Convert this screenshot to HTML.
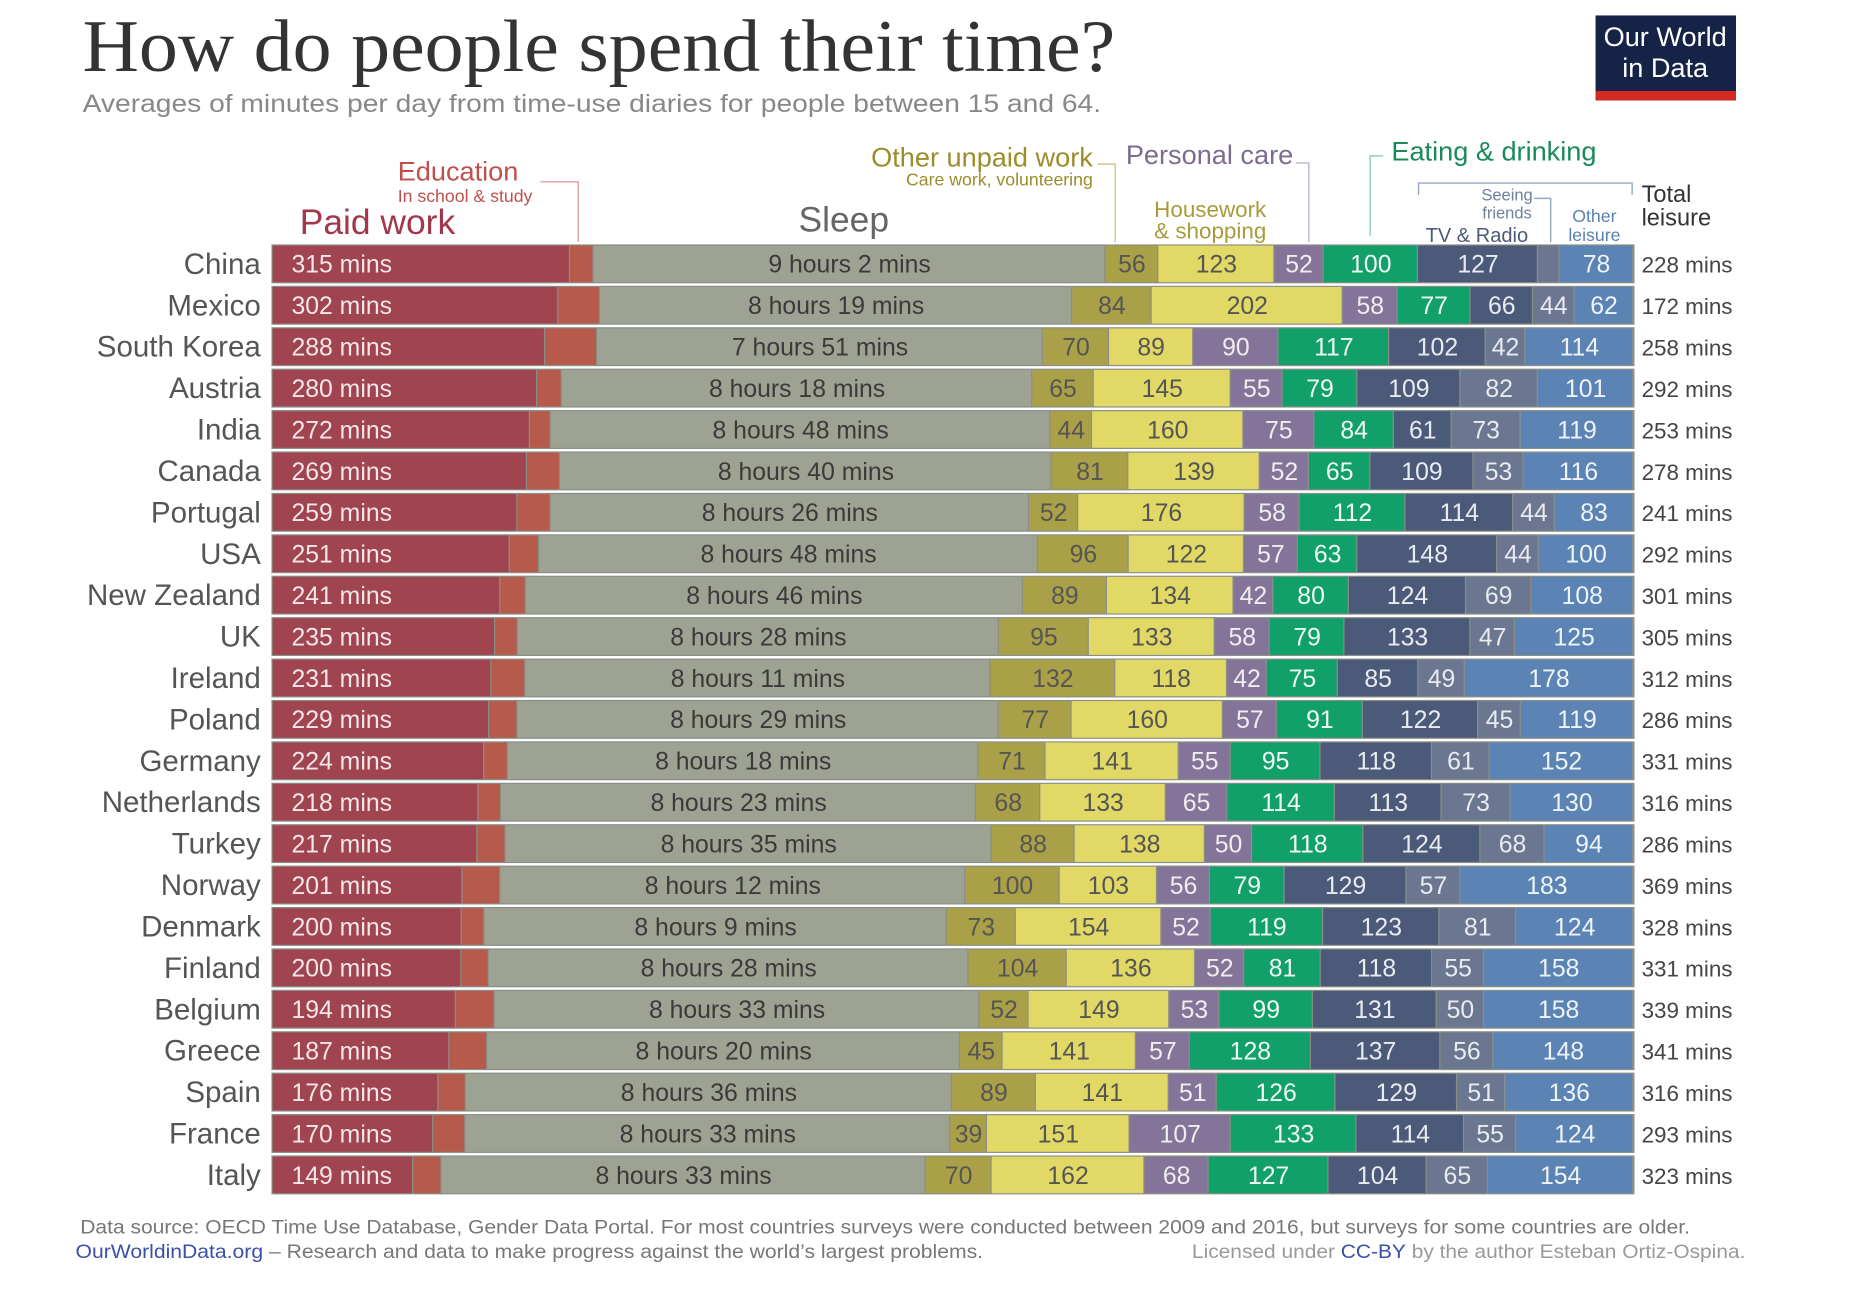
<!DOCTYPE html>
<html><head><meta charset="utf-8"><title>How do people spend their time?</title>
<style>
html,body{margin:0;padding:0;background:#fff;}
svg{display:block;}
text{font-family:"Liberation Sans",sans-serif;}
</style></head>
<body>
<svg id="chart" width="1854" height="1296" viewBox="0 0 1571 1098" xmlns="http://www.w3.org/2000/svg">
<rect x="0" y="0" width="1571" height="1098" fill="#fff"/>
<text x="70" y="60" font-size="63" fill="#333" textLength="875" lengthAdjust="spacingAndGlyphs" style="font-family:'Liberation Serif',serif">How do people spend their time?</text>
<text x="70" y="95" font-size="21" fill="#888" textLength="863" lengthAdjust="spacingAndGlyphs">Averages of minutes per day from time-use diaries for people between 15 and 64.</text>
<g>
<rect x="1352" y="13" width="119" height="72" fill="#152347"/>
<rect x="1352" y="77" width="119" height="8" fill="#d42b21"/>
<text x="1411" y="39" font-size="23" fill="#fff" text-anchor="middle">Our World</text>
<text x="1411" y="65" font-size="23" fill="#fff" text-anchor="middle">in Data</text>
</g>
<g fill="none" stroke-width="1.2">
<text x="337" y="153" font-size="23" fill="#c0504d" stroke="none">Education</text>
<text x="337" y="171" font-size="15" fill="#c0504d" stroke="none">In school &amp; study</text>
<polyline points="458,154 490,154 490,205" stroke="#e0a0a0"/>
<text x="254" y="198" font-size="30" fill="#a3364a" stroke="none">Paid work</text>
<text x="715" y="196" font-size="30" fill="#666" stroke="none" text-anchor="middle">Sleep</text>
<text x="926" y="141" font-size="23" fill="#9a8d2a" stroke="none" text-anchor="end">Other unpaid work</text>
<text x="926" y="157" font-size="15" fill="#9a8d2a" stroke="none" text-anchor="end">Care work, volunteering</text>
<polyline points="930,139 945,139 945,205" stroke="#cfc78a"/>
<text x="954" y="139" font-size="23" fill="#7c6c8e" stroke="none">Personal care</text>
<polyline points="1098,138 1109,138 1109,205" stroke="#c0b8cc"/>
<text x="978" y="184" font-size="19" fill="#a99a3a" stroke="none">Housework</text>
<text x="978" y="202" font-size="19" fill="#a99a3a" stroke="none">&amp; shopping</text>
<text x="1179" y="136" font-size="23" fill="#1a8a5a" stroke="none">Eating &amp; drinking</text>
<polyline points="1172,132 1161,132 1161,200" stroke="#8fd0b0"/>
<polyline points="1202,165 1202,155 1383,155 1383,165" stroke="#99a8c0"/>
<text x="1277" y="170" font-size="14" fill="#7080a0" stroke="none" text-anchor="middle">Seeing</text>
<text x="1277" y="185" font-size="14" fill="#7080a0" stroke="none" text-anchor="middle">friends</text>
<polyline points="1300,168 1314,168 1314,205" stroke="#99a8c0"/>
<text x="1208" y="205" font-size="17" fill="#4a5a78" stroke="none">TV &amp; Radio</text>
<text x="1351" y="188" font-size="15" fill="#5a80b0" stroke="none" text-anchor="middle">Other</text>
<text x="1351" y="204" font-size="15" fill="#5a80b0" stroke="none" text-anchor="middle">leisure</text>
<text x="1391" y="171" font-size="20" fill="#333" stroke="none">Total</text>
<text x="1391" y="191" font-size="20" fill="#333" stroke="none">leisure</text>
</g>
<g id="rows"></g>
<text x="68" y="1045" font-size="16.5" fill="#777" textLength="1364" lengthAdjust="spacingAndGlyphs">Data source: OECD Time Use Database, Gender Data Portal. For most countries surveys were conducted between 2009 and 2016, but surveys for some countries are older.</text>
<text x="64" y="1066" font-size="16.5" fill="#777" textLength="769" lengthAdjust="spacingAndGlyphs"><tspan fill="#3b4fa8">OurWorldinData.org</tspan> – Research and data to make progress against the world’s largest problems.</text>
<text x="1479" y="1066" font-size="16.5" fill="#999" text-anchor="end" textLength="469" lengthAdjust="spacingAndGlyphs">Licensed under <tspan fill="#3b4fa8">CC-BY</tspan> by the author Esteban Ortiz-Ospina.</text>
</svg>
<script>
const countries = ["China","Mexico","South Korea","Austria","India","Canada","Portugal","USA","New Zealand","UK","Ireland","Poland","Germany","Netherlands","Turkey","Norway","Denmark","Finland","Belgium","Greece","Spain","France","Italy"];
const paidWork = [315,302,288,280,272,269,259,251,241,235,231,229,224,218,217,201,200,200,194,187,176,170,149];
const education = [25,44,55,26,22,35,35,31,27,24,36,30,25,24,30,40,24,29,41,40,29,34,30];
const sleep = [542,499,471,498,528,520,506,528,526,508,491,509,498,503,515,492,489,508,513,500,516,513,513];
const unpaidWork = [56,84,70,65,44,81,52,96,89,95,132,77,71,68,88,100,73,104,52,45,89,39,70];
const housework = [123,202,89,145,160,139,176,122,134,133,118,160,141,133,138,103,154,136,149,141,141,151,162];
const personalCare = [52,58,90,55,75,52,58,57,42,58,42,57,55,65,50,56,52,52,53,57,51,107,68];
const eating = [100,77,117,79,84,65,112,63,80,79,75,91,95,114,118,79,119,81,99,128,126,133,127];
const tvRadio = [127,66,102,109,61,109,114,148,124,133,85,122,118,113,124,129,123,118,131,137,129,114,104];
const friends = [23,44,42,82,73,53,44,44,69,47,49,45,61,73,68,57,81,55,50,56,51,55,65];
const otherLeisure = [78,62,114,101,119,116,83,100,108,125,178,119,152,130,94,183,124,158,158,148,136,124,154];
const totalLeisure = [228,172,258,292,253,278,241,292,301,305,312,286,331,316,286,369,328,331,339,341,316,293,323];

const NS = "http://www.w3.org/2000/svg";
const X0 = 231, XW = 1153;
const ROW0 = 208, PITCH = 35.09, BH = 31;
const yScale = i => ROW0 + i * PITCH;
const series = [
  {name:"paid-work", data:paidWork, fill:"#a0454f", text:"#f3e6e8", fmt:v=>v+" mins", left:true},
  {name:"education", data:education, fill:"#b65a4b", text:"#fff", hide:true},
  {name:"sleep", data:sleep, fill:"#9da293", text:"#3a3a3a", fmt:v=>Math.floor(v/60)+" hours "+(v%60)+" mins"},
  {name:"unpaid-work", data:unpaidWork, fill:"#aaa048", text:"#555"},
  {name:"housework", data:housework, fill:"#e2d865", text:"#555"},
  {name:"personal-care", data:personalCare, fill:"#85749a", text:"#eee"},
  {name:"eating", data:eating, fill:"#12a06a", text:"#eefaf3"},
  {name:"tv-radio", data:tvRadio, fill:"#4a5a78", text:"#e8ebf0"},
  {name:"friends", data:friends, fill:"#6b7690", text:"#e8ebf0"},
  {name:"other-leisure", data:otherLeisure, fill:"#5b84b4", text:"#eef3f8"}
];
const root = document.getElementById("rows");
function mk(tag, attrs, txt){const e=document.createElementNS(NS,tag);for(const k in attrs)e.setAttribute(k,attrs[k]);if(txt!==undefined)e.textContent=txt;return e;}
countries.forEach((c,i)=>{
  const y = yScale(i);
  const rowTotal = series.reduce((a,s)=>a+s.data[i],0);
  const xScale = m => m * XW / rowTotal;
  const g = mk("g",{});
  
  
  const lbl = mk("text",{x:221,y:y+24,"font-size":25,fill:"#555","text-anchor":"end"},c);
  
  
  g.appendChild(lbl);
  const bg = mk("rect",{x:X0-1,y:y-1,width:XW+2,height:BH+2,fill:"#8a8f88"});
  
  
  g.appendChild(bg);
  let acc = 0;
  series.forEach(s=>{
    const v = s.data[i];
    const x = X0 + xScale(acc), w = xScale(v);
    const r = mk("rect",{x:x,y:y,width:Math.max(0,w-1),height:BH,fill:s.fill});
    
    
    g.appendChild(r);
    if(!s.hide && w >= 24){
      const t = s.fmt ? s.fmt(v) : String(v);
      const tx = mk("text",{x:s.left? x+16 : x+w/2, y:y+23,"font-size":21,fill:s.text,"text-anchor":s.left?"start":"middle"},t);
      
      
      g.appendChild(tx);
    }
    acc += v;
  });
  const tl = mk("text",{x:1391,y:y+23,"font-size":19,fill:"#444"},totalLeisure[i]+" mins");
  
  
  g.appendChild(tl);
  root.appendChild(g);
});
</script>
</body></html>
